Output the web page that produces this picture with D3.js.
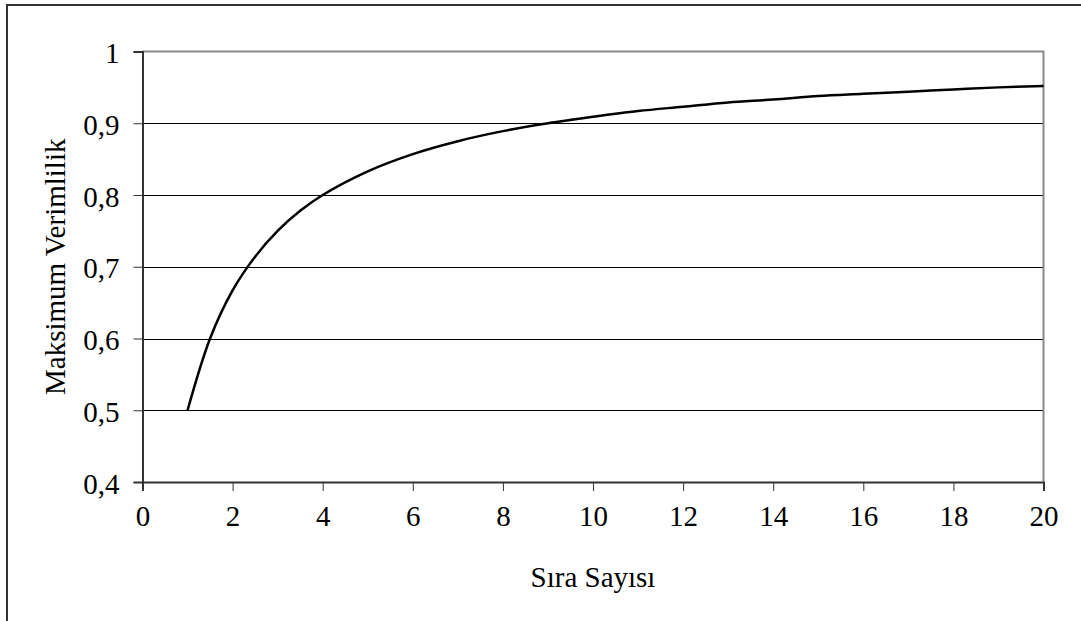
<!DOCTYPE html>
<html>
<head>
<meta charset="utf-8">
<script src="https://cdn.jsdelivr.net/npm/d3@7"></script>
<style>
  html, body { margin: 0; padding: 0; background: #fff; }
  svg { display: block; }
  svg text { font-family: "Liberation Serif", "Times New Roman", "DejaVu Serif", serif !important; fill: #000; }
</style>
</head>
<body>
<svg id="chart" width="1081" height="621" font-family="Liberation Serif, serif"></svg>
<script>
// Number of stages (Sıra Sayısı) and the maximum efficiency at each
const siraSayisi = [1, 1.5, 2, 2.5, 3, 3.5, 4, 5, 6, 7, 8, 9, 10, 11, 12, 13, 14, 15, 16, 17, 18, 19, 20];
const verimlilik = [0.5, 0.6, 0.667, 0.714, 0.75, 0.778, 0.8, 0.833, 0.857, 0.875, 0.889, 0.9, 0.909, 0.917, 0.923, 0.929, 0.933, 0.938, 0.941, 0.944, 0.947, 0.95, 0.952];

const xTicks = [0, 2, 4, 6, 8, 10, 12, 14, 16, 18, 20];
const yTicks = [0.4, 0.5, 0.6, 0.7, 0.8, 0.9, 1];
const xTitle = "Sıra Sayısı";
const yTitle = "Maksimum Verimlilik";

const FONT = "Liberation Serif, Times New Roman, serif";
const svg = d3.select("#chart");
const plot = { left: 142.5, top: 51.5, right: 1043.5, bottom: 482 };

// Outer frame (only its top and left edges fall inside the view)
svg.append("rect")
  .attr("x", 7).attr("y", 5).attr("width", 1200).attr("height", 800)
  .attr("fill", "none").attr("stroke", "#333").attr("stroke-width", 2);

const x = d3.scaleLinear().domain([0, 20]).range([plot.left, plot.right]);
const y = d3.scaleLinear().domain([0.4, 1]).range([plot.bottom, plot.top]);

const fmt = v => String(v).replace(".", ",");

// Horizontal gridlines
svg.append("g")
  .selectAll("line")
  .data(yTicks.filter(v => v > 0.4 && v < 1))
  .join("line")
  .attr("x1", plot.left).attr("x2", plot.right)
  .attr("y1", d => Math.round(y(d)) + 0.5).attr("y2", d => Math.round(y(d)) + 0.5)
  .attr("stroke", "#000").attr("stroke-width", 1);

// Plot area border: grey top and right
svg.append("path")
  .attr("d", `M${plot.left},${plot.top}H${plot.right}V${plot.bottom}`)
  .attr("fill", "none").attr("stroke", "#888").attr("stroke-width", 2);

// Y axis
const yAxis = svg.append("g")
  .attr("transform", `translate(${plot.left},0)`)
  .call(d3.axisLeft(y).tickValues(yTicks).tickFormat(fmt).tickSize(9).tickPadding(14))
  .attr("font-family", FONT).attr("font-size", 29);
yAxis.select(".domain").attr("stroke", "#333").attr("stroke-width", 2);
yAxis.selectAll(".tick line").attr("stroke", "#333").attr("stroke-width", 1);
yAxis.selectAll(".tick text").attr("dy", "0.38em");

// X axis
const xAxis = svg.append("g")
  .attr("transform", `translate(0,${plot.bottom})`)
  .call(d3.axisBottom(x).tickValues(xTicks).tickFormat(d => d).tickSize(9).tickPadding(14))
  .attr("font-family", FONT).attr("font-size", 29);
xAxis.select(".domain").attr("stroke", "#333").attr("stroke-width", 2);
xAxis.selectAll(".tick line").attr("stroke", "#333").attr("stroke-width", 1);

// Efficiency curve
const pts = siraSayisi.map((s, i) => [s, verimlilik[i]]);
svg.append("path")
  .datum(pts)
  .attr("fill", "none")
  .attr("stroke", "#000")
  .attr("stroke-width", 2.5)
  .attr("d", d3.line().x(d => x(d[0])).y(d => y(d[1])).curve(d3.curveCatmullRom.alpha(0.5)));

// Axis titles
svg.append("text")
  .attr("x", (plot.left + plot.right) / 2).attr("y", 587)
  .attr("text-anchor", "middle").attr("font-size", 29).attr("font-family", FONT)
  .text(xTitle);

svg.append("text")
  .attr("transform", `translate(65,${(plot.top + plot.bottom) / 2}) rotate(-90)`)
  .attr("text-anchor", "middle").attr("font-size", 29).attr("font-family", FONT)
  .text(yTitle);
</script>
</body>
</html>
